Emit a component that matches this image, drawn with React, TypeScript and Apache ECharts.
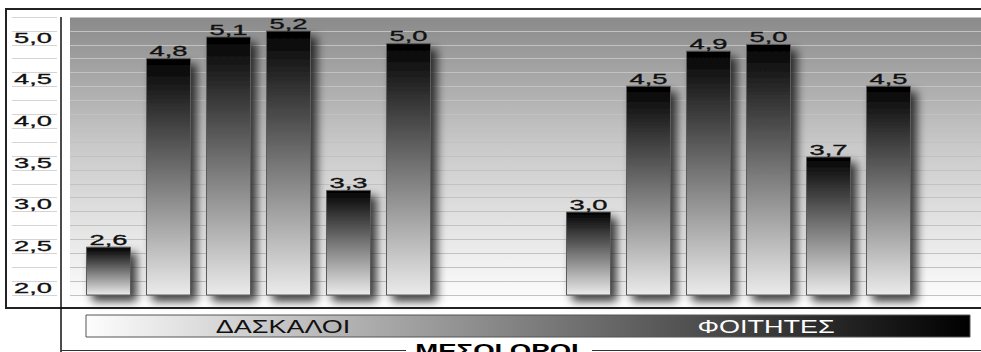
import React, { useEffect, useRef } from 'react';
import * as echarts from 'echarts';

// ---- data ----
const teacherValues = [2.58, 4.84, 5.1, 5.17, 3.26, 5.02];
const studentValues = [3.0, 4.51, 4.93, 5.01, 3.66, 4.51];
const groupLabels = ['ΔΑΣΚΑΛΟΙ', 'ΦΟΙΤΗΤΕΣ'];
const axisTitle = 'ΜΕΣΟΙ ΟΡΟΙ';
const yTickLabels = [2.0, 2.5, 3.0, 3.5, 4.0, 4.5, 5.0];
const gapSlots = 2;
const trailingSlots = 1;

const Y_MIN = 2;
const Y_STEP = 1 / 6;
const Y_MAX = 2 + 20 / 6;

const fmt = (v: number) => v.toFixed(1).replace('.', ',');

export default function App() {
  const ref = useRef<HTMLDivElement>(null);

  useEffect(() => {
    if (!ref.current) return;
    const chart = echarts.init(ref.current, null, { renderer: 'svg' });

    const slotValues: (number | null)[] = [
      ...teacherValues,
      ...Array(gapSlots).fill(null),
      ...studentValues,
      ...Array(trailingSlots).fill(null),
    ];
    const slotNames = slotValues.map((_, i) => String(i));
    const labelData = slotValues
      .map((v, i) => (v == null ? null : [i, v]))
      .filter((d) => d != null) as number[][];

    const font = '"Liberation Sans", Arial, sans-serif';
    const gridTop = 17;
    const gridHeight = 278;

    const yAxisBase = {
      type: 'value',
      min: Y_MIN,
      max: Y_MAX,
      interval: Y_STEP,
      axisLine: { show: false },
      axisTick: { show: false },
      axisLabel: { show: false },
    };

    const barGradient = new echarts.graphic.LinearGradient(0, 0, 0, 1, [
      { offset: 0, color: '#000000' },
      { offset: 1, color: '#ebebeb' },
    ]);

    const option: any = {
      animation: false,
      grid: [
        { left: 12, width: 45, top: gridTop, height: gridHeight },
        { left: 70, right: 0, top: gridTop, height: gridHeight },
        { left: 78.5, right: 2.5, top: gridTop, height: gridHeight },
      ],
      xAxis: [
        { type: 'value', gridIndex: 0, min: 0, max: 1, show: false },
        { type: 'value', gridIndex: 1, min: 0, max: 1, show: false },
        { type: 'category', gridIndex: 2, data: slotNames, show: false },
      ],
      yAxis: [
        { ...yAxisBase, gridIndex: 0, splitLine: { show: true, lineStyle: { color: '#d4d4d4', width: 1 } } },
        { ...yAxisBase, gridIndex: 1, splitLine: { show: true, lineStyle: { color: '#c2c2c2', width: 1.2 } } },
        { ...yAxisBase, gridIndex: 2, splitLine: { show: false } },
      ],
      series: [
        {
          type: 'bar',
          xAxisIndex: 2,
          yAxisIndex: 2,
          data: slotValues,
          barWidth: 45,
          itemStyle: {
            color: barGradient,
            borderColor: '#5c5c5c',
            borderWidth: 1,
            shadowColor: 'rgba(0,0,0,0.75)',
            shadowBlur: 10,
            shadowOffsetX: 6,
            shadowOffsetY: 6,
          },
          z: 3,
        },
        {
          type: 'custom',
          xAxisIndex: 2,
          yAxisIndex: 2,
          data: labelData,
          z: 4,
          renderItem: (_p: any, api: any) => {
            const idx = api.value(0);
            const v = api.value(1);
            const pt = api.coord([idx, v]);
            return {
              type: 'text',
              x: pt[0],
              y: pt[1] + 0.5,
              scaleX: 1.95,
              style: {
                text: fmt(v),
                fill: '#111',
                font: `14px ${font}`,
                align: 'center',
                verticalAlign: 'bottom',
                stroke: '#111',
                lineWidth: 0.3,
              },
            };
          },
        },
        {
          type: 'custom',
          xAxisIndex: 0,
          yAxisIndex: 0,
          data: yTickLabels.map((v) => [0, v]),
          z: 4,
          renderItem: (_p: any, api: any) => {
            const v = api.value(1);
            const pt = api.coord([0, v]);
            return {
              type: 'text',
              x: pt[0] + 2,
              y: pt[1] - 7,
              scaleX: 1.95,
              style: {
                text: fmt(v),
                fill: '#111',
                font: `14px ${font}`,
                align: 'left',
                verticalAlign: 'middle',
                stroke: '#111',
                lineWidth: 0.3,
              },
            };
          },
        },
      ],
      graphic: [
        {
          type: 'rect',
          silent: true,
          z: -100,
          shape: { x: 70, y: 17, width: 911, height: 285 },
          style: {
            fill: new echarts.graphic.LinearGradient(0, 0, 0, 1, [
              { offset: 0, color: '#8a8a8a' },
              { offset: 0.45, color: '#c9c9c9' },
              { offset: 1, color: '#fdfdfd' },
            ]),
          },
        },
        { type: 'line', silent: true, shape: { x1: 5, y1: 9, x2: 981, y2: 9 }, style: { stroke: '#222', lineWidth: 2 } },
        { type: 'line', silent: true, shape: { x1: 6, y1: 9, x2: 6, y2: 308 }, style: { stroke: '#222', lineWidth: 2 } },
        { type: 'line', silent: true, shape: { x1: 5, y1: 308, x2: 981, y2: 308 }, style: { stroke: '#222', lineWidth: 2 } },
        { type: 'line', silent: true, shape: { x1: 61, y1: 17, x2: 61, y2: 352 }, style: { stroke: '#111', lineWidth: 1.5 } },
        { type: 'line', silent: true, shape: { x1: 61, y1: 350.5, x2: 406, y2: 350.5 }, style: { stroke: '#333', lineWidth: 1 } },
        { type: 'line', silent: true, shape: { x1: 592, y1: 350.5, x2: 981, y2: 350.5 }, style: { stroke: '#333', lineWidth: 1 } },
        {
          type: 'rect',
          silent: true,
          shape: { x: 86, y: 315, width: 884, height: 22 },
          style: {
            fill: new echarts.graphic.LinearGradient(0, 0, 1, 0, [
              { offset: 0, color: '#fdfdfd' },
              { offset: 1, color: '#000000' },
            ]),
            stroke: '#555',
            lineWidth: 1,
          },
        },
        {
          type: 'text',
          silent: true,
          x: 283,
          y: 327,
          scaleX: 1.5,
          style: { text: groupLabels[0], fill: '#111', font: `18px ${font}`, align: 'center', verticalAlign: 'middle' },
        },
        {
          type: 'text',
          silent: true,
          x: 766,
          y: 327,
          scaleX: 1.5,
          style: { text: groupLabels[1], fill: '#fff', font: `18px ${font}`, align: 'center', verticalAlign: 'middle' },
        },
        {
          type: 'text',
          silent: true,
          x: 497,
          y: 351,
          scaleX: 1.45,
          style: { text: axisTitle, fill: '#000', font: `bold 19px ${font}`, align: 'center', verticalAlign: 'middle' },
        },
      ],
    };

    chart.setOption(option);
    return () => chart.dispose();
  }, []);

  return (
    <div
      ref={ref}
      style={{ position: 'fixed', left: 0, top: 0, width: 981, height: 352, background: '#fff' }}
    />
  );
}
